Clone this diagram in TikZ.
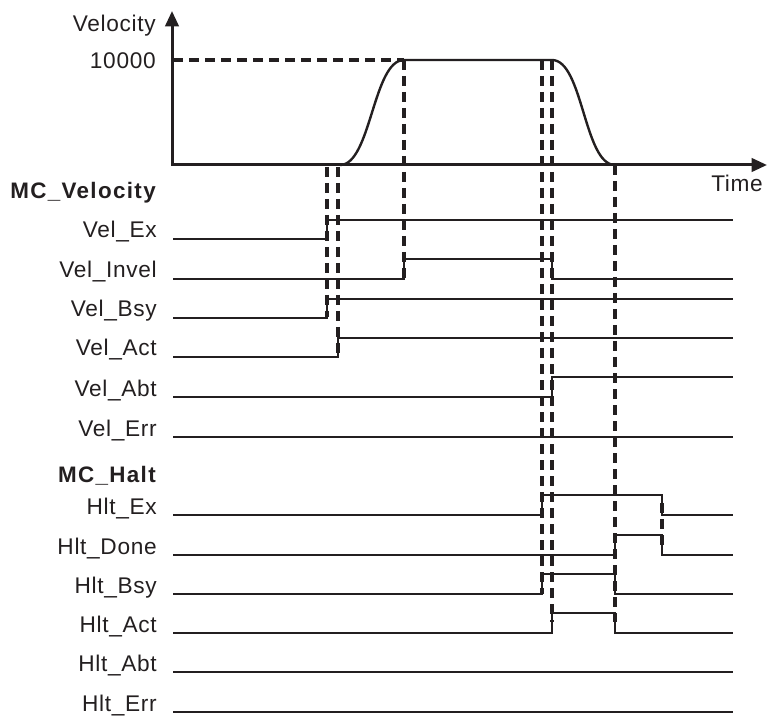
\documentclass[tikz,border=0pt]{standalone}
\usepackage{fontspec}
\setmainfont{Liberation Sans}[LetterSpace=3]
\usetikzlibrary{arrows.meta}
\definecolor{ink}{HTML}{231F20}
\begin{document}
\begin{tikzpicture}[x=0.75pt,y=-0.75pt,
  lbl/.style={anchor=base east,inner sep=0pt,font=\fontsize{17}{19}\selectfont,text=ink},
  hdr/.style={anchor=base east,inner sep=0pt,font=\fontsize{16.8}{19}\selectfont\bfseries\addfontfeatures{LetterSpace=6},text=ink},
  axis/.style={line width=2.25pt,draw=ink,-{Triangle[length=11.5pt,width=10pt]}},
  sig/.style={line width=1.5pt,draw=ink},
  guide/.style={line width=2.3pt,draw=ink,dash pattern=on 7.5pt off 4.5pt},
  vcurve/.style={line width=1.8pt,draw=ink}]
\useasboundingbox (0,0) rectangle (767,716);

% axes
\coordinate (o) at (172,165);
\coordinate (ytip) at (172,11);
\coordinate (xtip) at (767,165);
\draw[axis] (o) -- (ytip);
\draw[axis] (171,165) -- (xtip);
\node[lbl] (vlab) at (156,32) {Velocity};
\node[lbl] (vmax) at (156,69) {10000};
\node[lbl,anchor=base west] (tlab) at (711,192) {Time};

% velocity profile
\draw[guide] (173,60) -- (404,60);
\draw[vcurve] (340,165) .. controls (371,165) and (373,60) .. (404,60)
  -- (552,60) .. controls (583,60) and (584,165) .. (615,165);

% labels
\node[hdr] (mcv) at (156,199) {MC\_Velocity};
\node[lbl] (l1) at (157,238) {Vel\_Ex};
\node[lbl] (l2) at (157,278) {Vel\_Invel};
\node[lbl] (l3) at (157,317) {Vel\_Bsy};
\node[lbl] (l4) at (157,356) {Vel\_Act};
\node[lbl] (l5) at (157,396) {Vel\_Abt};
\node[lbl] (l6) at (157,436) {Vel\_Err};
\node[hdr] (mch) at (156,482) {MC\_Halt};
\node[lbl] (h1) at (157,514) {Hlt\_Ex};
\node[lbl] (h2) at (157,554) {Hlt\_Done};
\node[lbl] (h3) at (157,593) {Hlt\_Bsy};
\node[lbl] (h4) at (157,632) {Hlt\_Act};
\node[lbl] (h5) at (157,671) {Hlt\_Abt};
\node[lbl] (h6) at (157,711) {Hlt\_Err};

% signals
\draw[sig] (173,239) -- (327,239) -- (327,220) -- (733,220);
\draw[sig] (173,279) -- (404,279) -- (404,259) -- (552,259) -- (552,279) -- (733,279);
\draw[sig] (173,318) -- (327,318) -- (327,299) -- (733,299);
\draw[sig] (173,357) -- (338,357) -- (338,338) -- (733,338);
\draw[sig] (173,397) -- (552,397) -- (552,377) -- (733,377);
\draw[sig] (173,437) -- (733,437);
\draw[sig] (173,515) -- (542,515) -- (542,495) -- (662,495) -- (662,515) -- (733,515);
\draw[sig] (173,555) -- (615,555) -- (615,535) -- (662,535) -- (662,555) -- (733,555);
\draw[sig] (173,594) -- (542,594) -- (542,574) -- (615,574) -- (615,594) -- (733,594);
\draw[sig] (173,633) -- (552,633) -- (552,613) -- (615,613) -- (615,633) -- (733,633);
\draw[sig] (173,672) -- (733,672);
\draw[sig] (173,712) -- (733,712);

% guide lines
\draw[guide] (327,167) -- (327,317);
\draw[guide] (338,167) -- (338,357);
\draw[guide] (404,60) -- (404,278);
\draw[guide] (542,60) -- (542,594);
\draw[guide] (552,60) -- (552,622);
\draw[guide] (615,165) -- (615,622);
\draw[guide] (662,503) -- (662,546);
\end{tikzpicture}
\end{document}
